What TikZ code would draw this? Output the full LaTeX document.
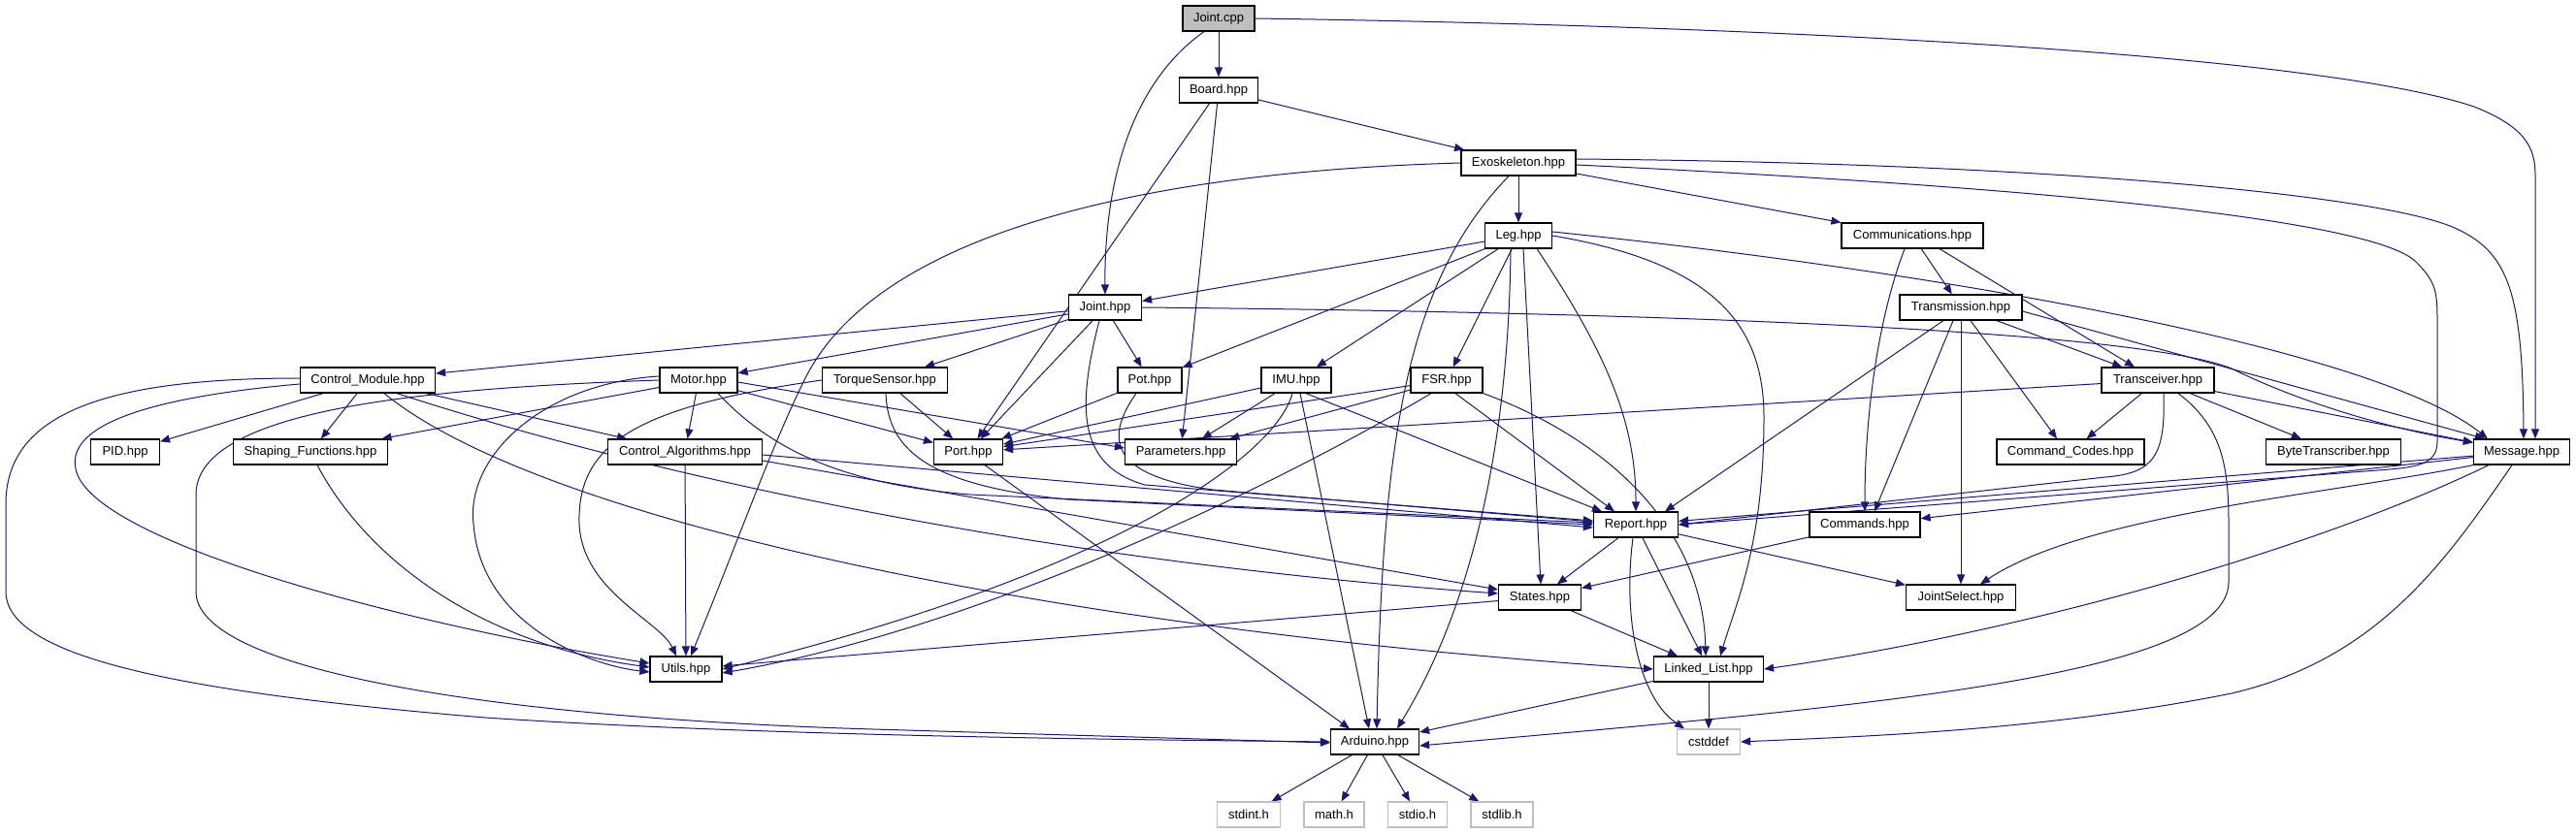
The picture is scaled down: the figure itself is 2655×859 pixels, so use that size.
\documentclass[tikz,border=0pt]{standalone}
\usepackage{fontspec}
\setmainfont{Liberation Sans}
\usetikzlibrary{arrows.meta}
\definecolor{edgecol}{HTML}{191970}
\definecolor{extgray}{HTML}{BFBFBF}
\pgfdeclarelayer{bglayer}
\pgfdeclarelayer{edgelayer}
\pgfsetlayers{bglayer,edgelayer,main}
\begin{document}
\begin{tikzpicture}[x=1pt,y=-1pt,
  hnode/.style={draw=black, line width=1.2pt, fill=white, minimum height=26pt, inner sep=0pt, font=\fontsize{13}{15}\selectfont, text=black},
  extnode/.style={hnode, draw=extgray},
  e/.style={draw=edgecol, line width=1pt, -{Triangle[length=10pt,width=8pt]}}]
\begin{pgfonlayer}{bglayer}
\fill[white] (0,0) rectangle (2655,859);
\end{pgfonlayer}
\useasboundingbox (0,0) rectangle (2655,859);
% nodes
\node[hnode, fill=extgray, minimum width=74pt] (jcpp) at (1256,19) {Joint.cpp};
\node[hnode, minimum width=81pt] (board) at (1256,93) {Board.hpp};
\node[hnode, minimum width=118pt] (exo) at (1565,168) {Exoskeleton.hpp};
\node[hnode, minimum width=69pt] (leg) at (1565,243) {Leg.hpp};
\node[hnode, minimum width=146pt] (comm) at (1971,243) {Communications.hpp};
\node[hnode, minimum width=75pt] (jhpp) at (1139,317) {Joint.hpp};
\node[hnode, minimum width=126pt] (trans) at (2021,317) {Transmission.hpp};
\node[hnode, minimum width=139pt] (cm) at (379,392) {Control\_Module.hpp};
\node[hnode, minimum width=80pt] (motor) at (720,392) {Motor.hpp};
\node[hnode, minimum width=129pt] (torque) at (912,392) {TorqueSensor.hpp};
\node[hnode, minimum width=66pt] (pot) at (1185,392) {Pot.hpp};
\node[hnode, minimum width=72pt] (imu) at (1336,392) {IMU.hpp};
\node[hnode, minimum width=74pt] (fsr) at (1491,392) {FSR.hpp};
\node[hnode, minimum width=116pt] (trcv) at (2224,392) {Transceiver.hpp};
\node[hnode, minimum width=71pt] (pid) at (129,466) {PID.hpp};
\node[hnode, minimum width=159pt] (shape) at (320,466) {Shaping\_Functions.hpp};
\node[hnode, minimum width=159pt] (calg) at (706,466) {Control\_Algorithms.hpp};
\node[hnode, minimum width=71pt] (port) at (998,466) {Port.hpp};
\node[hnode, minimum width=115pt] (param) at (1217,466) {Parameters.hpp};
\node[hnode, minimum width=152pt] (ccodes) at (2134,466) {Command\_Codes.hpp};
\node[hnode, minimum width=139pt] (byte) at (2405,466) {ByteTranscriber.hpp};
\node[hnode, minimum width=99pt] (msg) at (2599,466) {Message.hpp};
\node[hnode, minimum width=87pt] (report) at (1686,541) {Report.hpp};
\node[hnode, minimum width=114pt] (commands) at (1922,541) {Commands.hpp};
\node[hnode, minimum width=85pt] (states) at (1587,616) {States.hpp};
\node[hnode, minimum width=113pt] (jsel) at (2021,616) {JointSelect.hpp};
\node[hnode, minimum width=74pt] (utils) at (707,690) {Utils.hpp};
\node[hnode, minimum width=113pt] (ll) at (1761,690) {Linked\_List.hpp};
\node[hnode, minimum width=91pt] (ard) at (1417,765) {Arduino.hpp};
\node[extnode, minimum width=65pt] (cst) at (1761,765) {cstddef};
\node[extnode, minimum width=65pt] (sint) at (1287,840) {stdint.h};
\node[extnode, minimum width=62pt] (smath) at (1375,840) {math.h};
\node[extnode, minimum width=61pt] (sio) at (1461,840) {stdio.h};
\node[extnode, minimum width=64pt] (slib) at (1548,840) {stdlib.h};
% edges
\begin{pgfonlayer}{edgelayer}
% Joint.cpp
\draw[e] (jcpp) -- (board);
\draw[e] ([xshift=-15pt]jcpp.south) .. controls (1160,90) and (1138,200) .. (jhpp.north);
\draw[e] (jcpp.east) .. controls (1900,28) and (2400,60) .. (2550,110) .. controls (2600,130) and (2613,150) .. (2613,180) -- ([xshift=14pt]msg.north);
% Board
\draw[e] (board) -- (exo);
\draw[e] (board) -- (port);
\draw[e] (board) -- (param);
% Exoskeleton
\draw[e] (exo) -- (leg);
\draw[e] (exo) -- (comm);
\draw[e] (exo.west) .. controls (1150,178) and (900,250) .. (830,390) .. controls (795,460) and (760,560) .. ([xshift=5pt]utils.north);
\draw[e] ([xshift=-10pt]exo.south) .. controls (1450,290) and (1425,450) .. ([xshift=2pt]ard.north);
\draw[e] ([yshift=4pt]exo.east) .. controls (2100,168) and (2450,200) .. (2530,235) .. controls (2585,260) and (2600,300) .. ([xshift=2pt]msg.north);
\draw[e] ([yshift=-2pt]exo.east) .. controls (2150,195) and (2450,230) .. (2490,270) .. controls (2510,290) and (2512,300) .. (2512,330) -- (2512,455) .. controls (2512,480) and (2490,482) .. (2450,485) -- (report.east);
% Leg
\draw[e] (leg) -- (jhpp);
\draw[e] (leg) -- (pot);
\draw[e] (leg) -- (imu);
\draw[e] (leg) -- (fsr);
\draw[e] ([xshift=-8pt]leg.south) .. controls (1555,450) and (1520,620) .. ([xshift=23pt]ard.north);
\draw[e] ([xshift=5pt]leg.south) -- ([xshift=1pt]states.north);
\draw[e] ([xshift=19pt]leg.south) .. controls (1660,370) and (1686,440) .. (report.north);
\draw[e] (leg.east) .. controls (1760,270) and (1818,330) .. (1818,430) .. controls (1818,560) and (1790,620) .. ([xshift=12pt]ll.north);
\draw[e] ([yshift=4pt]leg.east) .. controls (2000,280) and (2450,360) .. ([xshift=15pt]msg.north west);
% Communications
\draw[e] (comm) -- (trans);
\draw[e] ([xshift=28pt]comm.south) -- ([xshift=-24pt]trcv.north);
\draw[e] ([xshift=-8pt]comm.south) .. controls (1935,330) and (1922,430) .. (commands.north);
% Transmission
\draw[e] (trans) -- (trcv);
\draw[e] ([yshift=-4pt]trans.east) -- ([xshift=12pt]msg.north west);
\draw[e] ([xshift=-18pt]trans.south) -- ([xshift=30pt]report.north);
\draw[e] ([xshift=-8pt]trans.south) -- ([xshift=10pt]commands.north);
\draw[e] (trans) -- (jsel);
\draw[e] ([xshift=10pt]trans.south) -- ([xshift=-14pt]ccodes.north);
% Joint.hpp
\draw[e] (jhpp) -- (cm);
\draw[e] (jhpp) -- (motor);
\draw[e] (jhpp) -- (torque);
\draw[e] (jhpp) -- (pot);
\draw[e] (jhpp) -- (port);
\draw[e] ([xshift=-6pt]jhpp.south) .. controls (1110,420) and (1110,480) .. (1180,500) -- ([yshift=4pt]report.west);
\draw[e] (jhpp.east) .. controls (1700,322) and (2200,340) .. (2300,380) .. controls (2360,410) and (2450,440) .. ([yshift=-4pt]msg.north west);
% Control_Module
\draw[e] (cm) -- (pid);
\draw[e] (cm) -- (shape);
\draw[e] (cm) -- (calg);
\draw[e] ([yshift=-4pt]cm.west) .. controls (150,410) and (60,440) .. (80,490) .. controls (110,560) and (400,640) .. ([yshift=6pt]utils.west);
\draw[e] ([yshift=2pt]cm.west) .. controls (100,390) and (6,430) .. (6,520) -- (6,610) .. controls (6,680) and (200,715) .. (500,740) .. controls (800,760) and (1200,763) .. (ard.west);
\draw[e] ([xshift=17pt]cm.south) .. controls (560,540) and (1100,650) .. (ll.west);
\draw[e] ([xshift=30pt]cm.south) .. controls (700,500) and (1100,580) .. ([yshift=4pt]states.west);
% Motor
\draw[e] (motor) -- (calg);
\draw[e] (motor) -- (shape);
\draw[e] (motor) -- (port);
\draw[e] ([yshift=-2pt]motor.east) -- ([yshift=4pt]param.west);
\draw[e] ([xshift=20pt]motor.south) .. controls (800,470) and (880,500) .. (1000,510) -- ([yshift=2pt]report.west);
\draw[e] ([yshift=4pt]motor.west) .. controls (560,395) and (480,470) .. (488,540) .. controls (495,640) and (600,685) .. ([yshift=-3pt]utils.west);
\draw[e] (motor.west) .. controls (450,400) and (202,420) .. (202,510) -- (202,610) .. controls (202,690) and (500,740) .. (900,752) -- ([yshift=-1pt]ard.west);
% TorqueSensor
\draw[e] (torque) -- (port);
\draw[e] ([xshift=1pt]torque.south) .. controls (915,460) and (950,500) .. (1100,515) -- (report.west);
\draw[e] (torque.west) .. controls (650,420) and (595,460) .. (597,540) .. controls (600,610) and (680,640) .. ([xshift=-10pt]utils.north);
% Pot
\draw[e] (pot) -- (port);
\draw[e] ([xshift=-14pt]pot.south) .. controls (1140,450) and (1140,490) .. (1250,505) -- ([yshift=3pt]report.west);
% IMU
\draw[e] (imu) -- (port);
\draw[e] (imu) -- (param);
\draw[e] ([xshift=10pt]imu.south) -- ([xshift=-35pt]report.north);
\draw[e] ([xshift=-4pt]imu.south) .. controls (1315,470) and (1150,590) .. (utils.east);
\draw[e] ([xshift=4pt]imu.south) -- ([xshift=-6pt]ard.north);
% FSR
\draw[e] (fsr) -- (port);
\draw[e] (fsr) -- (param);
\draw[e] ([xshift=9pt]fsr.south) -- ([xshift=-22pt]report.north);
\draw[e] ([xshift=-16pt]fsr.south) .. controls (1300,510) and (1000,650) .. ([yshift=-4pt]utils.east);
\draw[e] (fsr.south east) .. controls (1650,450) and (1755,540) .. ([xshift=-3pt]ll.north);
% Transceiver
\draw[e] (trcv) -- (ccodes);
\draw[e] (trcv) -- (byte);
\draw[e] (trcv) -- (msg);
\draw[e] (trcv) -- (port);
\draw[e] ([xshift=6pt]trcv.south) .. controls (2232,470) and (2220,488) .. (2170,492) -- (report.east);
\draw[e] ([xshift=21pt]trcv.south) .. controls (2290,440) and (2297,480) .. (2297,540) -- (2297,600) .. controls (2297,700) and (1900,730) .. ([yshift=-4pt]ard.east);
% Shaping / Control_Algorithms / Port
\draw[e] ([xshift=7pt]shape.south) .. controls (380,580) and (500,665) .. ([yshift=2pt]utils.west);
\draw[e] (calg) -- (utils);
\draw[e] ([yshift=-3pt]calg.east) -- ([yshift=-3pt]report.west);
\draw[e] ([yshift=-9pt]calg.east) -- ([yshift=8pt]states.west);
\draw[e] ([xshift=17pt]port.south) -- ([xshift=-26pt]ard.north);
% Message
\draw[e] (msg) -- (report);
\draw[e] (msg) -- (commands);
\draw[e] (msg.south west) .. controls (2400,510) and (2150,530) .. ([xshift=20pt]jsel.north);
\draw[e] ([xshift=-34pt]msg.south) .. controls (2400,560) and (2100,650) .. (ll.east);
\draw[e] ([xshift=-10pt]msg.south) .. controls (2520,580) and (2450,680) .. (2300,715) .. controls (2100,755) and (1900,760) .. (cst.east);
% Report
\draw[e] (report) -- (states);
\draw[e] (report) -- (ll);
\draw[e] (report) -- (jsel);
\draw[e] ([xshift=-3pt]report.south) .. controls (1672,640) and (1690,720) .. ([xshift=-25pt]cst.north);
% Commands / States / Linked_List
\draw[e] (commands) -- (states);
\draw[e] (states) -- (utils);
\draw[e] (states) -- (ll);
\draw[e] (ll) -- (ard);
\draw[e] (ll) -- (cst);
% Arduino
\draw[e] (ard) -- (sint);
\draw[e] (ard) -- (smath);
\draw[e] (ard) -- (sio);
\draw[e] (ard) -- (slib);
\end{pgfonlayer}
\end{tikzpicture}
\end{document}
